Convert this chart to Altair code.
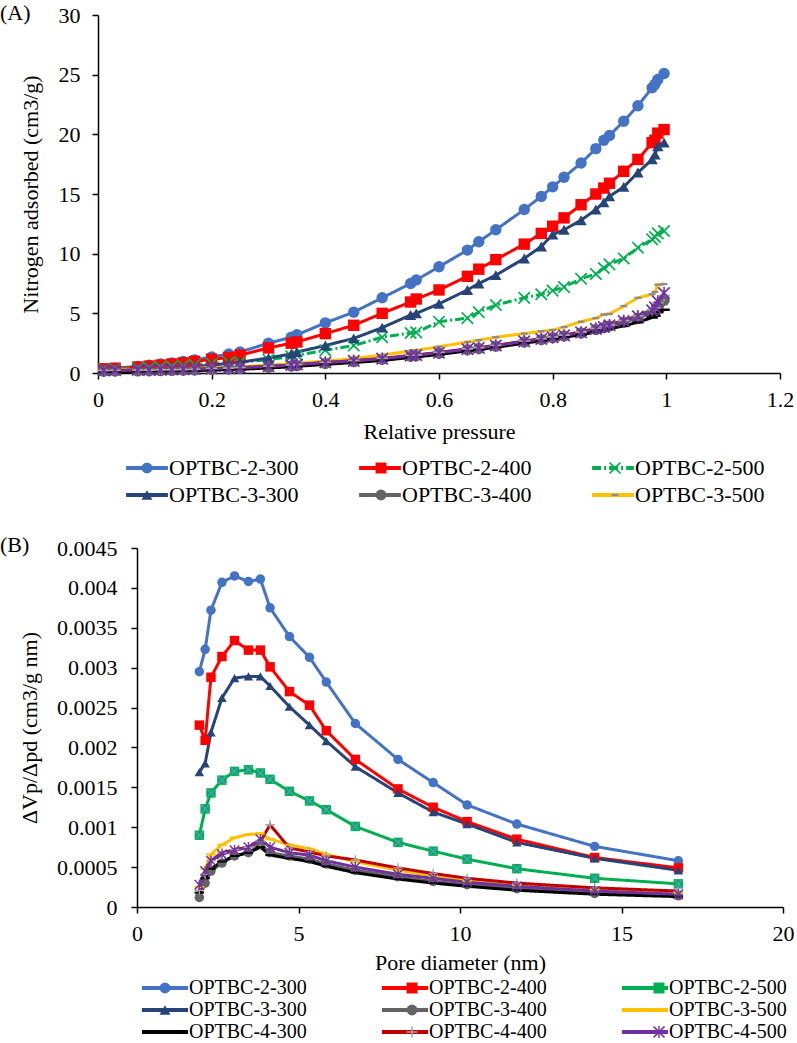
import altair as alt
import pandas as pd

FONT = "Liberation Serif"
FS = 22

samples = ["OPTBC-2-300", "OPTBC-2-400", "OPTBC-2-500",
           "OPTBC-3-300", "OPTBC-3-400", "OPTBC-3-500",
           "OPTBC-4-300", "OPTBC-4-400", "OPTBC-4-500"]
# marker keys carry a zero-width suffix so the marker legend stays separate from the line legend
marker_keys = [s + "\u200b" for s in samples]

line_colors = ["#4472C4", "#FF0000", "#00B050", "#264478", "#636363",
               "#FFC000", "#000000", "#C00000", "#7030A0"]

# ---------------- (A) nitrogen adsorption isotherms ----------------
p_rel = [0.01, 0.03, 0.07, 0.09, 0.11, 0.13, 0.15, 0.17, 0.20, 0.23,
         0.25, 0.30, 0.34, 0.35, 0.40, 0.45, 0.50, 0.55, 0.56, 0.60,
         0.65, 0.67, 0.70, 0.75, 0.78, 0.80, 0.82, 0.85, 0.876, 0.89,
         0.90, 0.925, 0.95, 0.975, 0.98, 0.985, 0.996]

ads_2_300 = [0.30, 0.40, 0.55, 0.65, 0.75, 0.85, 0.97, 1.10, 1.34, 1.60,
             1.76, 2.50, 3.00, 3.20, 4.20, 5.10, 6.30, 7.50, 7.80, 8.90,
             10.3, 11.0, 12.0, 13.7, 14.8, 15.6, 16.4, 17.6, 18.8, 19.5,
             19.9, 21.1, 22.4, 23.9, 24.2, 24.6, 25.1]
ads_2_400 = [0.35, 0.40, 0.50, 0.58, 0.66, 0.75, 0.85, 0.97, 1.15, 1.30,
             1.50, 2.10, 2.50, 2.60, 3.30, 4.00, 5.00, 5.95, 6.20, 6.96,
             8.10, 8.70, 9.50, 10.8, 11.7, 12.3, 13.0, 14.1, 15.0, 15.5,
             15.9, 16.9, 17.9, 19.3, 19.5, 20.1, 20.4]
ads_2_500 = [0.30, 0.33, 0.40, 0.45, 0.50, 0.55, 0.62, 0.70, 0.80, 0.90,
             0.92, 1.10, 1.40, 1.50, 1.90, 2.30, 3.00, 3.35, 3.40, 4.30,
             4.60, 5.10, 5.70, 6.30, 6.60, 6.90, 7.20, 7.90, 8.30, 8.80,
             9.10, 9.60, 10.5, 11.2, 11.4, 11.7, 11.9]
ads_3_300 = [0.20, 0.22, 0.28, 0.32, 0.37, 0.42, 0.48, 0.55, 0.65, 0.80,
             0.90, 1.26, 1.60, 1.76, 2.30, 2.90, 3.80, 4.86, 5.00, 5.80,
             6.96, 7.50, 8.20, 9.60, 10.6, 11.6, 12.0, 12.8, 13.7, 14.3,
             14.8, 15.6, 16.8, 17.9, 18.3, 19.0, 19.3]
ads_3_400 = [0.15, 0.16, 0.18, 0.19, 0.20, 0.22, 0.23, 0.25, 0.30, 0.34,
             0.37, 0.48, 0.58, 0.62, 0.80, 0.95, 1.15, 1.40, 1.45, 1.65,
             1.95, 2.05, 2.25, 2.60, 2.80, 2.95, 3.10, 3.35, 3.65, 3.80,
             3.95, 4.25, 4.60, 5.05, 5.20, 5.55, 6.10]
ads_3_500 = [0.25, 0.27, 0.30, 0.32, 0.34, 0.36, 0.38, 0.41, 0.45, 0.50,
             0.54, 0.66, 0.78, 0.82, 1.00, 1.20, 1.50, 1.85, 1.90, 2.20,
             2.60, 2.75, 3.00, 3.30, 3.50, 3.60, 3.85, 4.30, 4.60, 4.90,
             4.95, 5.60, 6.30, 6.60, 6.80, 7.40, 7.45]
ads_4_300 = [0.10, 0.11, 0.13, 0.14, 0.15, 0.17, 0.18, 0.20, 0.24, 0.28,
             0.31, 0.42, 0.52, 0.56, 0.72, 0.88, 1.05, 1.30, 1.35, 1.55,
             1.85, 1.95, 2.15, 2.50, 2.70, 2.85, 3.00, 3.20, 3.45, 3.60,
             3.70, 3.95, 4.25, 4.65, 4.80, 5.10, 5.30]
ads_4_400 = [0.20, 0.21, 0.23, 0.24, 0.26, 0.27, 0.29, 0.31, 0.36, 0.40,
             0.44, 0.55, 0.66, 0.70, 0.88, 1.03, 1.22, 1.48, 1.52, 1.72,
             2.02, 2.12, 2.32, 2.68, 2.88, 3.02, 3.18, 3.45, 3.75, 3.90,
             4.05, 4.40, 4.80, 5.30, 5.45, 5.90, 6.50]
ads_4_500 = [0.22, 0.23, 0.25, 0.26, 0.28, 0.29, 0.31, 0.33, 0.37, 0.41,
             0.45, 0.56, 0.67, 0.71, 0.88, 1.02, 1.20, 1.45, 1.50, 1.70,
             2.00, 2.10, 2.30, 2.65, 2.85, 3.00, 3.15, 3.40, 3.70, 3.85,
             4.00, 4.35, 4.75, 5.25, 5.50, 6.00, 6.70]

# ---------------- (B) pore size distributions ----------------
pore_d = [1.93, 2.11, 2.29, 2.63, 3.02, 3.45, 3.82, 4.12, 4.72, 5.34,
          5.86, 6.76, 8.08, 9.17, 10.22, 11.76, 14.17, 16.76]

psd_2_300 = [0.00295, 0.00323, 0.00372, 0.00407, 0.00415, 0.00408, 0.00411, 0.00375, 0.00339,
             0.00313, 0.00282, 0.00230, 0.00185, 0.00156, 0.00128, 0.00104, 0.00076, 0.00058]
psd_2_400 = [0.00228, 0.00209, 0.00288, 0.00314, 0.00334, 0.00322, 0.00322, 0.00301, 0.00270,
             0.00253, 0.00221, 0.00185, 0.00148, 0.00125, 0.00107, 0.00085, 0.00062, 0.00049]
psd_2_500 = [0.00090, 0.00123, 0.00143, 0.00159, 0.00170, 0.00172, 0.00168, 0.00160, 0.00145,
             0.00133, 0.00122, 0.00101, 0.00081, 0.00070, 0.00060, 0.00048, 0.00036, 0.00029]
psd_3_300 = [0.00169, 0.00180, 0.00219, 0.00262, 0.00287, 0.00289, 0.00289, 0.00277, 0.00251,
             0.00228, 0.00208, 0.00176, 0.00143, 0.00119, 0.00104, 0.00081, 0.00061, 0.00046]
psd_3_400 = [0.00012, 0.00030, 0.00045, 0.00055, 0.00064, 0.00068, 0.00079, 0.00068, 0.00064,
             0.00060, 0.00054, 0.00046, 0.00038, 0.00032, 0.00028, 0.00023, 0.00017, 0.00014]
psd_3_500 = [0.00025, 0.00048, 0.00066, 0.00078, 0.00087, 0.00091, 0.00092, 0.00085, 0.00078,
             0.00073, 0.00066, 0.00057, 0.00046, 0.00039, 0.00033, 0.00028, 0.00022, 0.00018]
psd_4_300 = [0.00018, 0.00036, 0.00048, 0.00057, 0.00064, 0.00068, 0.00075, 0.00065, 0.00061,
             0.00057, 0.00051, 0.00043, 0.00035, 0.00030, 0.00026, 0.00021, 0.00016, 0.00013]
psd_4_400 = [0.00021, 0.00041, 0.00058, 0.00068, 0.00072, 0.00075, 0.00082, 0.00103, 0.00074,
             0.00069, 0.00064, 0.00059, 0.00049, 0.00042, 0.00036, 0.00030, 0.00024, 0.00020]
psd_4_500 = [0.00028, 0.00045, 0.00058, 0.00066, 0.00071, 0.00075, 0.00085, 0.00075, 0.00068,
             0.00065, 0.00058, 0.00050, 0.00041, 0.00036, 0.00031, 0.00026, 0.00020, 0.00016]

ads_table = [ads_2_300, ads_2_400, ads_2_500, ads_3_300, ads_3_400,
             ads_3_500, ads_4_300, ads_4_400, ads_4_500]
psd_table = [psd_2_300, psd_2_400, psd_2_500, psd_3_300, psd_3_400,
             psd_3_500, psd_4_300, psd_4_400, psd_4_500]

# marker glyphs (unit-square SVG paths)
X_PATH = ("M0,-0.212L0.894,-1.106L1.106,-0.894L0.212,0L1.106,0.894L0.894,1.106"
          "L0,0.212L-0.894,1.106L-1.106,0.894L-0.212,0L-1.106,-0.894L-0.894,-1.106Z")
PLUS_PATH = "M-0.15,-1H0.15V-0.15H1V0.15H0.15V1H-0.15V0.15H-1V-0.15H-0.15Z"
STAR_PATH = "M-0.13,-1.1H0.13V1.1H-0.13Z" + X_PATH
DASH_PATH = "M-1,-0.22H1V0.22H-1Z"
SMALL_DASH = "M-0.6,-0.2H0.6V0.2H-0.6Z"

shapes_a = ["circle", "square", X_PATH, "triangle-up", "circle",
            SMALL_DASH, DASH_PATH, PLUS_PATH, STAR_PATH]
fills_a = ["#4472C4", "#FF0000", "#00B050", "#264478", "#636363",
           "#8C8C8C", "#000000", "#A6A6A6", "#7030A0"]
dashes_a = [[1, 0], [1, 0], [9, 3, 2, 3], [1, 0], [1, 0],
            [1, 0], [1, 0], [1, 0], [1, 0]]

shapes_b = ["circle", "square", "square", "triangle-up", "circle",
            DASH_PATH, DASH_PATH, PLUS_PATH, STAR_PATH]
fills_b = ["#4472C4", "#FF0000", "#00B050", "#264478", "#636363",
           "#FFC000", "#000000", "#A6A6A6", "#7030A0"]
dashes_b = [[1, 0]] * 9


def long_frame(xs, table, xname, yname):
    rows = []
    for s, m, vals in zip(samples, marker_keys, table):
        for x, v in zip(xs, vals):
            rows.append({xname: x, yname: v, "sample": s, "marker": m})
    return pd.DataFrame(rows)


def legends(n, lx, ly, fs, line_path, sym_off, lab_off, row_pad, col_pad,
            mark_lab_off, mark_col_pad):
    common = dict(orient="none", legendX=lx, legendY=ly, columns=3,
                  direction="horizontal", title=None, symbolOffset=sym_off,
                  labelFont=FONT, labelFontSize=fs, labelColor="black",
                  labelLimit=400, rowPadding=row_pad, padding=0)
    line_leg = alt.Legend(values=samples[:n], symbolType=line_path, symbolSize=121,
                          symbolStrokeWidth=4, labelOffset=lab_off,
                          columnPadding=col_pad, **common)
    # markers sit on the middle of each line sample; their own labels are blank
    mark_leg = alt.Legend(values=marker_keys[:n], symbolSize=120,
                          symbolStrokeWidth=0, labelExpr="''",
                          labelOffset=mark_lab_off, columnPadding=mark_col_pad,
                          **common)
    return line_leg, mark_leg


def axis(values, title, fmt="~g", **kw):
    return alt.Axis(values=values, title=title, format=fmt, grid=False,
                    labelFont=FONT, titleFont=FONT, labelFontSize=FS,
                    titleFontSize=FS, labelColor="black", titleColor="black",
                    titleFontWeight="normal", domainColor="black",
                    tickColor="black", domainWidth=1.5, tickWidth=1.5,
                    tickSize=6, labelFlush=False, labelOverlap=False, **kw)


def panel(df, xf, yf, xscale, yscale, xaxis, yaxis, n_leg, leg_pos,
          shapes, fills, dashes, msize, tag, w, h, overlay=None):
    line_leg, mark_leg = legends(n_leg, *leg_pos)
    base = alt.Chart(df)
    x = alt.X(f"{xf}:Q", scale=xscale, axis=xaxis)
    y = alt.Y(f"{yf}:Q", scale=yscale, axis=yaxis)
    lines = base.mark_line(strokeWidth=3).encode(
        x=x, y=y,
        color=alt.Color("sample:N", scale=alt.Scale(domain=samples, range=line_colors),
                        legend=line_leg),
        strokeDash=alt.StrokeDash("sample:N", scale=alt.Scale(domain=samples, range=dashes),
                                  legend=line_leg),
        order=alt.Order(f"{xf}:Q"),
    )
    points = base.mark_point(filled=True, opacity=1, size=msize, strokeWidth=0).encode(
        x=x, y=y,
        fill=alt.Fill("marker:N", scale=alt.Scale(domain=marker_keys, range=fills),
                      legend=mark_leg),
        shape=alt.Shape("marker:N", scale=alt.Scale(domain=marker_keys, range=shapes),
                        legend=mark_leg),
    )
    layers = [lines, points]
    if overlay is not None:
        layers.append(overlay.encode(x=x, y=y))
    tag_df = pd.DataFrame({"t": [tag[0]]})
    label = alt.Chart(tag_df).mark_text(
        align="left", baseline="top", font=FONT, fontSize=FS, color="black"
    ).encode(x=alt.value(-98), y=alt.value(tag[1]), text="t:N")
    layers.append(label)
    return alt.layer(*layers).properties(width=w, height=h)


df_a = long_frame(p_rel, ads_table, "p", "v")
df_b = long_frame(pore_d, psd_table, "d", "dv")

top = panel(
    df_a, "p", "v",
    alt.Scale(domain=[0, 1.2], nice=False, zero=False),
    alt.Scale(domain=[0, 30], nice=False),
    axis([0, 0.2, 0.4, 0.6, 0.8, 1.0, 1.2], "Relative pressure",
         labelPadding=10, titlePadding=11),
    axis([0, 5, 10, 15, 20, 25, 30], "Nitrogen adsorbed (cm3/g)",
         labelPadding=12, titlePadding=16),
    6, (28, 442, 22, "M-3.8,0H3.8", 10, 11, 5, 52, 5, 197),
    shapes_a, fills_a, dashes_a, 130, ("(A)", -12), 682, 358,
)

x_marks = alt.Chart(df_b[df_b["sample"] == "OPTBC-2-500"]).mark_point(
    shape=X_PATH, filled=True, fill="#5B9BD5", size=60, opacity=1, strokeWidth=0)

# the lower panel's plot starts 39 px further right than the upper one
bottom = panel(
    df_b, "d", "dv",
    alt.Scale(domain=[0, 20], range=[39, 685], nice=False, zero=False),
    alt.Scale(domain=[0, 0.0045], nice=False),
    axis([0, 5, 10, 15, 20], "Pore diameter (nm)", labelPadding=10, titlePadding=8),
    axis([0, 0.0005, 0.001, 0.0015, 0.002, 0.0025, 0.003, 0.0035, 0.004, 0.0045],
         "ΔVp/Δpd (cm3/g nm)", offset=-39, labelPadding=14, titlePadding=15),
    9, (44, 430, 20, "M-4.2,0H4.2", 13, 14, 2, 66, 8, 206),
    shapes_b, fills_b, dashes_b, 90, ("(B)", -13), 685, 359, overlay=x_marks,
)

chart = alt.vconcat(top, bottom, spacing=175, bounds="flush").resolve_scale(
    color="independent", fill="independent", shape="independent",
    strokeDash="independent", x="independent", y="independent",
).resolve_legend(
    color="independent", fill="independent", shape="independent",
    strokeDash="independent",
).properties(
    padding={"left": 0, "top": 2, "right": 0, "bottom": 0}
).configure_view(stroke=None)

chart.save("out.html", embed_options={"renderer": "svg", "actions": False})
